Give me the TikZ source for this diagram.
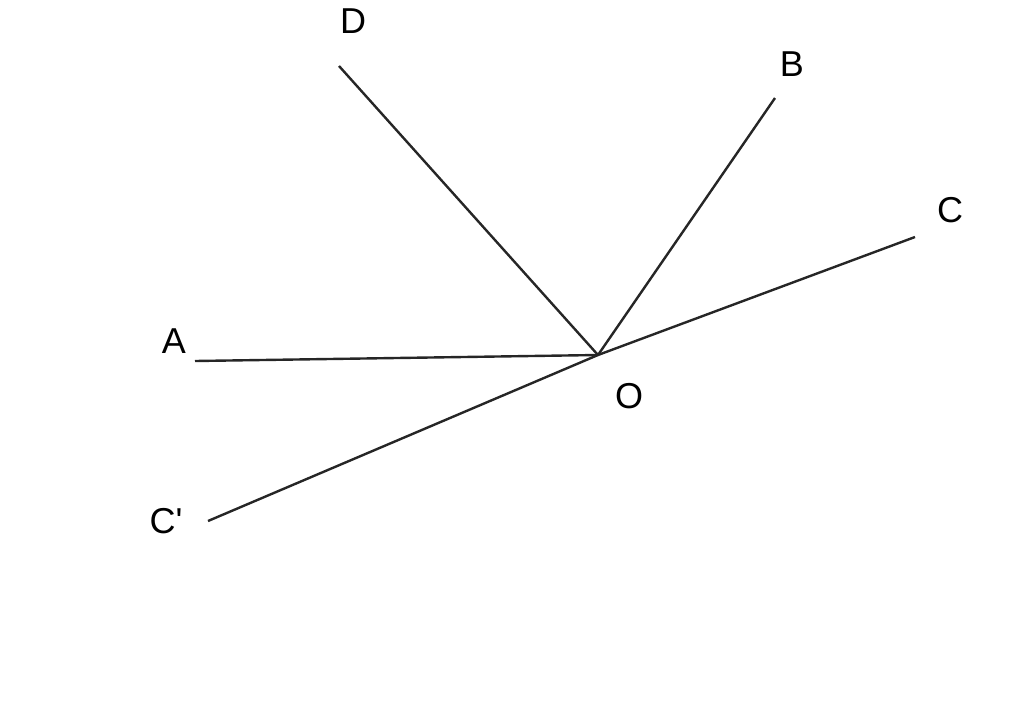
\documentclass[tikz,border=0pt]{standalone}
\usepackage{fontspec}
\setmainfont{Liberation Sans}
\begin{document}
\begin{tikzpicture}[x=0.5pt,y=-0.5pt,
  ray/.style={line width=1.2pt,color=black!85},
  lbl/.style={font=\fontsize{18}{20}\selectfont,inner sep=0pt}]
\useasboundingbox (0,0) rectangle (1024,703);
\coordinate (O) at (598,355);
\coordinate (A) at (195,361);
\coordinate (D) at (339,66);
\coordinate (B) at (775,98);
\coordinate (C) at (915,237);
\coordinate (Cp) at (208,521);
\draw[ray] (A) -- (O);
\draw[ray] (D) -- (O);
\draw[ray] (B) -- (O);
\draw[ray] (Cp) -- (O) -- (C);
\node[lbl] (lD) at (353,21) {D};
\node[lbl] (lB) at (792,64) {B};
\node[lbl] (lC) at (950,210) {C};
\node[lbl] (lA) at (174,341) {A};
\node[lbl] (lO) at (629,396) {O};
\node[lbl] (lCp) at (166,521) {C\textquotesingle};
\end{tikzpicture}
\end{document}
